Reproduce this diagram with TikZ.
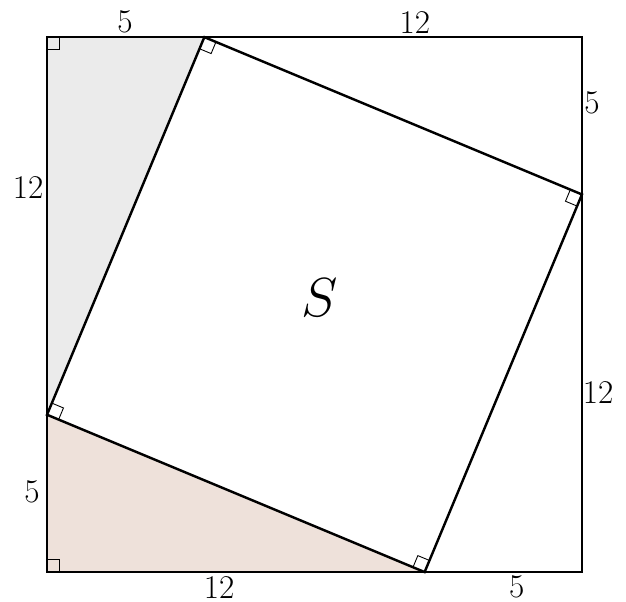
\documentclass[tikz,border=0pt]{standalone}
\usepackage{tikz}
\usetikzlibrary{calc}
\definecolor{sqGrey}{HTML}{EBEBEB}
\definecolor{sqTan}{HTML}{EEE1DA}
\tikzset{
  edge/.style={line width=1.1pt, line join=miter},
  ra/.style={line width=0.4pt},
  len/.style={font=\fontsize{15}{17}\selectfont, inner sep=0pt},
  area/.style={font=\fontsize{29}{32}\selectfont},
}
\def\rasize{0.2cm}
% right-angle mark at #1 between the directions to #2 and #3
\newcommand{\ramark}[3]{%
  \coordinate (ra1) at ($(#1)!\rasize!(#2)$);
  \coordinate (ra2) at ($(#1)!\rasize!(#3)$);
  \draw[ra] (ra1) -- ($(ra1)+(ra2)-(#1)$) -- (ra2);}

\begin{document}
\begin{tikzpicture}[x=0.5cm,y=0.5cm]
  \useasboundingbox (-1.494,-0.92) rectangle (18.40,18.18);
  % outer square
  \coordinate (A) at (0,0);
  \coordinate (B) at (17,0);
  \coordinate (C) at (17,17);
  \coordinate (D) at (0,17);
  % inner square
  \coordinate (P) at (12,0);
  \coordinate (Q) at (17,12);
  \coordinate (R) at (5,17);
  \coordinate (T) at (0,5);

  \fill[sqGrey] (D) -- (R) -- (T) -- cycle;
  \fill[sqTan] (A) -- (P) -- (T) -- cycle;

  \draw[edge] (A) -- (B) -- (C) -- (D) -- cycle;
  \draw[edge] (P) -- (Q) -- (R) -- (T) -- cycle;

  \ramark{D}{R}{T}
  \ramark{A}{P}{T}
  \ramark{R}{T}{Q}
  \ramark{Q}{R}{P}
  \ramark{P}{Q}{T}
  \ramark{T}{P}{R}

  \node[len] (t5)  at (2.48,17.50) {5};
  \node[len] (t12) at (11.69,17.46) {12};
  \node[len] (r5)  at (17.32,14.90) {5};
  \node[len] (r12) at (17.51,5.69) {12};
  \node[len] (l12) at (-0.60,12.23) {12};
  \node[len] (l5)  at (-0.48,2.54) {5};
  \node[len] (b12) at (5.47,-0.48) {12};
  \node[len] (b5)  at (14.93,-0.48) {5};

  \node[area] (S) at (8.67,8.71) {$S$};
\end{tikzpicture}
\end{document}
